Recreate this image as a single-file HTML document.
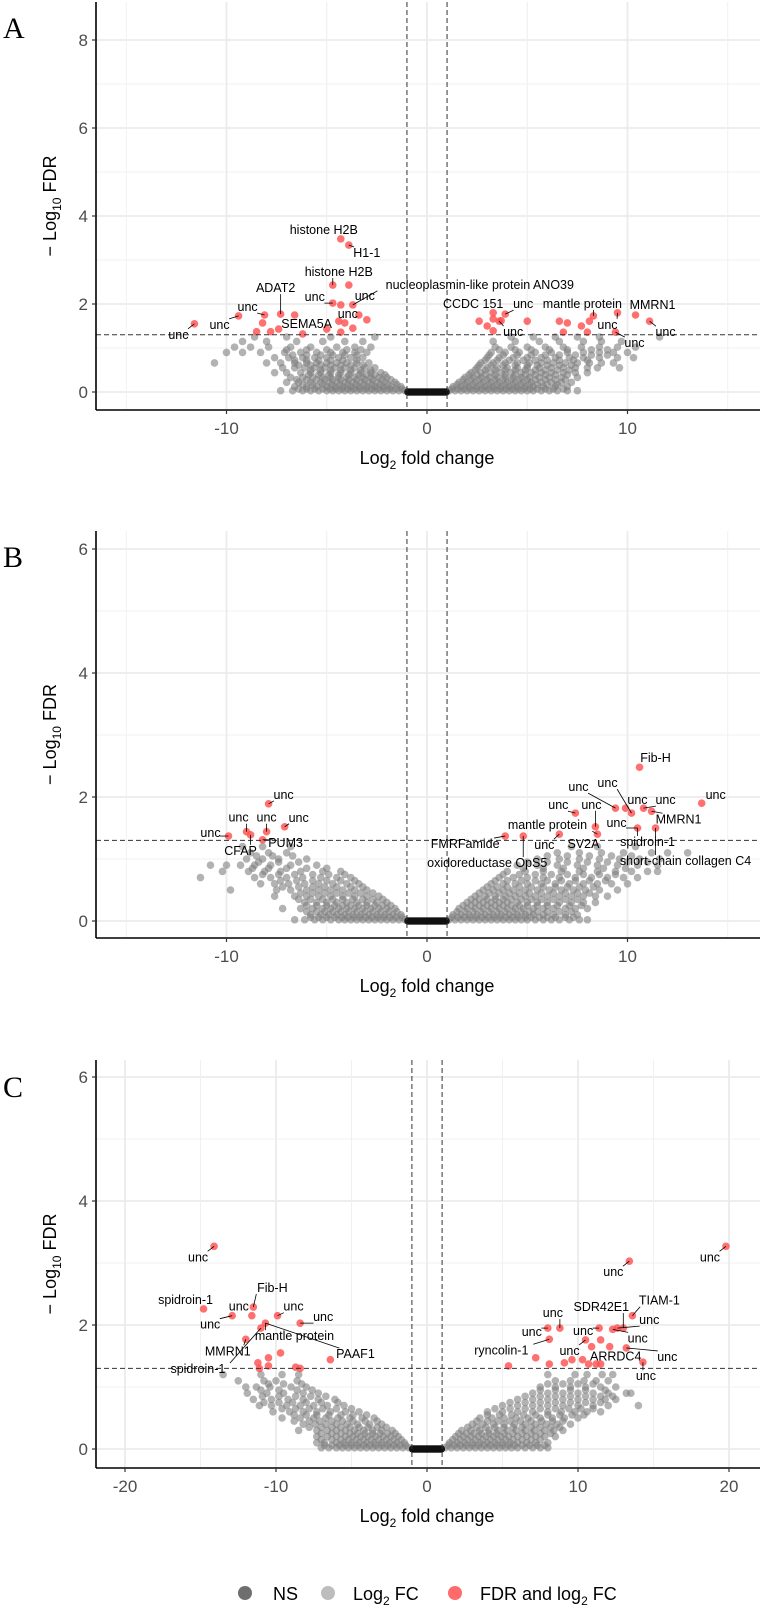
<!DOCTYPE html>
<html><head><meta charset="utf-8">
<style>
html,body{margin:0;padding:0;background:#fff;}
svg{display:block;font-family:"Liberation Sans",Arial,sans-serif;}
</style></head>
<body>
<svg id="fig" width="760" height="1605" viewBox="0 0 760 1605" xmlns="http://www.w3.org/2000/svg"></svg>
<script>
// ---------- Panel A data ----------
const redA = [[-11.6,1.55],[-9.4,1.73],[-8.1,1.75],[-8.2,1.57],[-8.5,1.37],[-7.8,1.37],[-7.3,1.77],[-7.4,1.43],[-6.6,1.75],[-6.2,1.32],[-5.0,1.43],[-4.7,2.43],[-4.3,3.48],[-3.9,3.34],[-3.9,2.43],[-4.7,2.02],[-4.3,1.98],[-3.7,1.98],[-4.4,1.61],[-4.1,1.57],[-4.3,1.36],[-3.7,1.45],[-3.4,1.75],[-3.0,1.64],
[2.6,1.61],[3.3,1.80],[3.3,1.66],[3.0,1.50],[3.3,1.39],[3.6,1.61],[3.7,1.62],[3.9,1.77],[5.0,1.61],[6.6,1.61],[7.0,1.57],[6.8,1.36],[7.7,1.50],[8.1,1.61],[8.3,1.73],[8.0,1.36],[9.5,1.80],[9.4,1.36],[10.4,1.75],[11.1,1.61]];
const grayA = [
[0.03,[-1.1,-1.4,-1.7,-2.0,-2.3,-2.6,-2.9,-3.2,-3.5,-3.8,-4.1,-4.4,-4.7,-5.0,-5.4,-5.8,-6.2,-6.7,-7.3,1.1,1.4,1.7,2.0,2.3,2.6,2.9,3.2,3.5,3.8,4.1,4.4,4.7,5.0,5.3,5.7,6.1,6.5,7.0,7.5]],
[0.12,[-1.3,-1.8,-2.2,-2.6,-3.0,-3.4,-3.8,-4.2,-4.6,-5.0,-5.5,-6.0,-6.6,1.3,1.7,2.1,2.5,2.9,3.3,3.7,4.1,4.5,4.9,5.3,5.8,6.4,7.0]],
[0.22,[-1.6,-2.1,-2.5,-2.9,-3.3,-3.7,-4.1,-4.5,-4.9,-5.3,-5.8,-6.4,-7.0,1.6,2.0,2.4,2.8,3.2,3.6,4.0,4.4,4.8,5.2,5.7,6.2,6.7,7.2]],
[0.33,[-2.0,-2.4,-2.8,-3.2,-3.6,-4.0,-4.4,-4.8,-5.2,-5.7,-6.2,-6.8,1.9,2.3,2.7,3.1,3.5,3.9,4.3,4.7,5.1,5.6,6.1,6.7,7.5]],
[0.44,[-2.3,-2.8,-3.3,-3.8,-4.3,-4.8,-5.3,-5.8,-6.3,-7.0,-7.6,2.2,2.7,3.2,3.7,4.2,4.7,5.2,5.7,6.2,6.8,7.4,8.0]],
[0.55,[-2.6,-3.1,-3.6,-4.1,-4.6,-5.1,-5.6,-6.1,-6.6,-7.2,2.5,3.0,3.5,4.0,4.5,5.0,5.6,6.2,6.8,7.4,8.0,8.5,9.6]],
[0.66,[-2.9,-3.5,-4.0,-4.5,-5.0,-5.5,-6.0,-6.6,-7.3,-8.0,-10.6,2.7,3.3,3.9,4.5,5.1,5.7,6.3,6.9,7.5,8.1,8.7,9.3]],
[0.78,[-3.2,-3.8,-4.4,-5.0,-5.6,-6.2,-6.9,-7.6,3.0,3.6,4.3,5.0,5.7,6.4,7.1,7.8,8.6,9.5,10.3]],
[0.90,[-3.0,-3.6,-4.2,-4.8,-5.5,-6.3,-7.1,-8.3,-9.2,-10.0,3.2,3.9,4.6,5.4,6.2,7.0,7.8,8.6,9.3,10.0]],
[1.02,[-2.8,-3.6,-4.5,-5.8,-6.8,-7.9,-8.8,-9.6,3.4,4.2,5.0,5.9,6.8,7.7,8.6,9.5,10.4]],
[1.15,[-3.2,-4.1,-5.2,-6.5,-8.0,-9.2,3.3,4.4,5.6,6.6,7.8,8.7,9.7]],
[1.25,[-2.6,-4.8,-7.0,-8.6,4.2,5.3,6.4,7.5,8.6,11.6]],
[0.07,[-1.25,-1.55,-1.85,-2.15,-2.45,-2.75,-3.05,-3.35,-3.65,-3.95,-4.25,-4.55,-4.85,-5.2,-5.6,-6.0,-6.4,1.25,1.55,1.85,2.15,2.45,2.75,3.05,3.35,3.65,3.95,4.25,4.55,4.85,5.15,5.5,5.9,6.3,6.8]],
[0.17,[-1.5,-1.95,-2.35,-2.75,-3.15,-3.55,-3.95,-4.35,-4.75,-5.2,-5.7,-6.2,1.5,1.9,2.3,2.7,3.1,3.5,3.9,4.3,4.7,5.1,5.5,6.0,6.5]],
[0.28,[-1.8,-2.25,-2.7,-3.1,-3.5,-3.9,-4.3,-4.7,-5.1,-5.5,-6.0,-6.5,1.8,2.2,2.6,3.0,3.4,3.8,4.2,4.6,5.0,5.4,5.9,6.4,6.9]],
[0.39,[-2.1,-2.6,-3.0,-3.4,-3.9,-4.4,-4.9,-5.4,-5.9,2.1,2.5,2.9,3.4,3.9,4.4,4.9,5.4,5.9,6.4,7.0]],
[0.50,[-2.8,-3.3,-3.8,-4.3,-4.8,-5.3,-5.8,2.4,2.9,3.4,3.9,4.4,4.9,5.4,5.9,6.5,7.1]],
[0.61,[-3.2,-3.8,-4.3,-4.8,-5.3,-5.8,-6.4,2.6,3.2,3.8,4.4,5.0,5.5,6.0,6.6,7.2]],
[0.72,[-3.5,-4.2,-4.8,-5.4,-6.0,-6.6,2.9,3.5,4.1,4.8,5.4,6.0,6.6,7.3,8.0]],
[0.84,[-3.5,-4.1,-4.7,-5.3,-6.0,-6.7,3.1,3.8,4.5,5.2,5.9,6.6,7.4,8.2,9.0]],
[0.96,[-3.3,-4.0,-5.0,-6.0,-7.0,3.6,4.4,5.2,6.1,7.0,8.2,9.0]]];
const labelsA = [
["histone H2B",-4.3,3.48,-17,-9],["H1-1",-3.9,3.34,18,8],["histone H2B",-4.7,2.43,6,-13],["ADAT2",-7.3,1.77,-5,-26],
["unc",-4.7,2.02,-18,-6],["unc",-3.7,1.98,12,-9],["nucleoplasmin-like protein ANO39",-3.7,1.98,127,-20],
["unc",-8.1,1.75,-17,-8],["unc",-9.4,1.73,-19,9],["unc",-11.6,1.55,-16,11],["SEMA5A",-6.6,1.75,12,9],["unc",-4.4,1.61,9,-7],
["CCDC 151",3.3,1.80,-20,-9],["unc",3.9,1.77,18,-10],["unc",3.6,1.61,14,11],["mantle protein",8.3,1.73,-11,-12],
["unc",9.5,1.80,-10,12],["MMRN1",10.4,1.75,17,-10],["unc",9.4,1.36,19,11],["unc",11.1,1.61,16,11]];

// ---------- Panel B data ----------
const redB = [[-7.9,1.89],[-9.9,1.37],[-9.0,1.44],[-8.8,1.39],[-8.0,1.44],[-7.1,1.52],[-8.2,1.31],
[3.9,1.37],[4.8,1.37],[6.6,1.40],[7.4,1.74],[8.4,1.52],[8.5,1.40],[9.4,1.82],[9.9,1.82],[10.2,1.74],[10.8,1.82],[11.2,1.77],[10.5,1.50],[11.4,1.50],[13.7,1.90],[10.6,2.48]];
const grayB = [
[0.02,[-1.1,-1.4,-1.7,-2.0,-2.3,-2.6,-2.9,-3.2,-3.5,-3.8,-4.1,-4.4,-4.8,-5.2,-5.6,-6.1,-6.6,1.1,1.4,1.7,2.0,2.3,2.6,2.9,3.2,3.5,3.8,4.1,4.4,4.7,5.0,5.4,5.8,6.2,6.6,7.1,7.6,8.0]],
[0.10,[-1.3,-1.7,-2.1,-2.5,-2.9,-3.3,-3.7,-4.1,-4.5,-4.9,-5.3,-5.8,1.3,1.7,2.1,2.5,2.9,3.3,3.7,4.1,4.5,4.9,5.3,5.8,6.3,6.9,7.5]],
[0.20,[-1.6,-2.0,-2.4,-2.8,-3.2,-3.6,-4.0,-4.4,-4.8,-5.2,-5.7,-6.3,-7.2,1.6,2.0,2.4,2.8,3.2,3.6,4.0,4.4,4.8,5.3,5.8,6.3,6.9,7.4,8.0]],
[0.30,[-2.0,-2.5,-3.0,-3.5,-4.0,-4.5,-5.0,-5.5,-6.1,2.0,2.4,2.8,3.2,3.6,4.0,4.5,5.0,5.5,6.0,6.6,7.2,7.8,8.4]],
[0.40,[-2.4,-3.0,-3.6,-4.2,-4.8,-5.4,-6.0,-6.6,-7.6,2.4,2.9,3.4,3.9,4.4,4.9,5.4,6.0,6.6,7.2,7.8,8.4,9.0]],
[0.50,[-3.0,-3.6,-4.2,-4.8,-5.4,-6.0,-6.8,-7.5,-9.8,2.8,3.3,3.8,4.3,4.9,5.5,6.1,6.7,7.3,7.9,8.6,9.5]],
[0.60,[-3.4,-4.0,-4.7,-5.4,-6.1,-6.9,-7.6,-8.3,3.2,3.8,4.4,5.0,5.7,6.4,7.1,7.8,8.5,9.2,10.0]],
[0.70,[-3.8,-4.5,-5.3,-6.2,-7.0,-7.8,-8.6,-11.3,3.6,4.3,5.0,5.8,6.6,7.4,8.2,9.0,9.8,10.5]],
[0.80,[-4.3,-5.2,-6.3,-7.3,-8.1,-8.9,-10.2,4.0,4.9,5.8,6.7,7.6,8.5,9.4,10.2,11.0,11.5]],
[0.90,[-5.5,-6.8,-7.8,-8.6,-9.3,-10.0,-10.8,4.5,5.5,6.5,7.5,8.5,9.5,10.5,11.5]],
[1.00,[-6.0,-7.4,-8.2,-9.0,5.5,6.6,7.6,8.6,9.6,10.6,11.6]],
[1.10,[-7.0,-7.9,-8.8,6.5,7.6,8.7,9.8,11.2,12.0,13.0]],
[1.20,[-6.8,-8.2,-9.2,7.2,8.5,10.4]],
[0.06,[-1.25,-1.55,-1.85,-2.15,-2.45,-2.75,-3.05,-3.35,-3.65,-3.95,-4.25,-4.6,-5.0,-5.4,-5.8,1.25,1.55,1.85,2.15,2.45,2.75,3.05,3.35,3.65,3.95,4.25,4.55,4.9,5.2,5.6,6.0,6.4,6.9,7.3]],
[0.15,[-1.5,-1.9,-2.3,-2.7,-3.1,-3.5,-3.9,-4.3,-4.7,-5.1,-5.5,-6.0,1.5,1.9,2.3,2.7,3.1,3.5,3.9,4.3,4.7,5.1,5.5,6.0,6.6,7.2]],
[0.25,[-1.8,-2.2,-2.6,-3.0,-3.4,-3.8,-4.2,-4.6,-5.0,-5.5,-6.0,1.8,2.2,2.6,3.0,3.4,3.8,4.2,4.6,5.0,5.5,6.0,6.5,7.1,7.7]],
[0.35,[-2.2,-2.7,-3.2,-3.7,-4.2,-4.7,-5.2,-5.8,-6.4,2.2,2.6,3.0,3.4,3.8,4.2,4.7,5.2,5.7,6.3,6.9,7.5]],
[0.45,[-2.7,-3.3,-3.9,-4.5,-5.1,-5.7,-6.3,2.6,3.1,3.6,4.1,4.6,5.1,5.7,6.3,6.9,7.5,8.1]],
[0.55,[-3.2,-3.8,-4.5,-5.1,-5.7,-6.4,-7.2,3.0,3.5,4.0,4.6,5.2,5.8,6.4,7.0,7.6,8.3]],
[0.65,[-3.6,-4.3,-5.0,-5.7,-6.5,-7.3,3.4,4.0,4.7,5.4,6.0,6.7,7.4,8.1,8.9]],
[0.75,[-4.1,-4.9,-5.7,-6.6,-7.4,-8.2,3.8,4.6,5.4,6.2,7.0,7.8,8.6,9.4]],
[0.85,[-5.0,-6.0,-7.0,-7.9,-8.7,4.8,5.8,6.8,7.8,8.8,9.9]],
[0.95,[-6.4,-7.4,-8.4,5.0,6.0,7.0,8.0,9.0,10.0,11.0]],
[1.05,[-6.7,-7.7,-8.5,6.0,7.0,8.1,9.2,10.2]]];
const labelsB = [
["Fib-H",10.6,2.48,16,-9],["unc",9.4,1.82,-37,-21],["unc",10.2,1.74,-24,-30],["unc",-7.9,1.89,15,-9],
["unc",9.9,1.82,12,-8],["unc",10.8,1.82,22,-8],["unc",13.7,1.90,14,-8],["unc",7.4,1.74,-17,-8],["unc",8.4,1.52,-4,-22],
["MMRN1",11.2,1.77,27,8],["mantle protein",8.5,1.40,-50,-9],["unc",10.5,1.50,-21,-5],["FMRFamide",3.9,1.37,-40,8],
["unc",6.6,1.40,-15,11],["SV2A",8.5,1.40,-14,10],["spidroin-1",10.5,1.50,10,14],["oxidoreductase OpS5",4.8,1.37,-36,27],
["short-chain collagen C4",11.4,1.50,30,33],["unc",-9.0,1.44,-8,-14],["unc",-8.0,1.44,0,-14],["unc",-7.1,1.52,14,-9],
["unc",-9.9,1.37,-18,-3],["PUM3",-8.2,1.31,23,3],["CFAP",-8.8,1.39,-10,16]];

// ---------- Panel C data ----------
const redC = [[-14.1,3.27],[-14.8,2.26],[-12.9,2.15],[-11.5,2.29],[-11.6,2.15],[-9.9,2.15],[-8.4,2.03],[-10.7,2.03],[-11.0,1.95],[-12.0,1.77],[-9.7,1.55],[-10.5,1.47],[-11.2,1.39],[-10.5,1.34],[-11.1,1.30],[-8.7,1.32],[-8.4,1.30],[-6.4,1.44],
[13.4,3.03],[19.8,3.27],[13.6,2.15],[8.0,1.95],[8.8,1.95],[8.1,1.77],[11.4,1.95],[12.3,1.93],[12.6,1.95],[13.0,1.95],[10.5,1.76],[11.5,1.76],[12.1,1.65],[10.9,1.65],[13.2,1.63],[7.2,1.47],[9.6,1.44],[10.3,1.44],[9.1,1.39],[8.1,1.37],[10.7,1.37],[11.2,1.37],[11.5,1.37],[14.3,1.40],[5.4,1.34]];
const grayC = [
[0.02,[-1.2,-1.6,-2.0,-2.4,-2.8,-3.2,-3.6,-4.0,-4.4,-4.8,-5.2,-5.6,-6.0,-6.5,-7.0,1.2,1.6,2.0,2.4,2.8,3.2,3.6,4.0,4.4,4.8,5.2,5.6,6.0,6.5,7.0,7.5,8.0]],
[0.10,[-1.5,-2.0,-2.5,-3.0,-3.5,-4.0,-4.5,-5.0,-5.5,-6.0,-6.8,-7.3,1.5,2.0,2.5,3.0,3.5,4.0,4.5,5.0,5.5,6.0,6.6,7.2,8.0]],
[0.20,[-1.9,-2.4,-2.9,-3.4,-3.9,-4.4,-4.9,-5.4,-6.0,-6.6,-7.3,1.9,2.4,2.9,3.4,3.9,4.4,4.9,5.4,6.0,6.6,7.2,7.8,8.5]],
[0.30,[-2.3,-3.0,-3.6,-4.2,-4.8,-5.4,-6.0,-6.6,-7.3,-8.5,2.3,2.9,3.5,4.1,4.7,5.3,5.9,6.5,7.1,7.8,8.4,9.0]],
[0.40,[-3.0,-3.8,-4.6,-5.3,-6.0,-6.7,-7.4,-8.2,3.0,3.7,4.4,5.1,5.8,6.5,7.2,7.9,8.6,9.5]],
[0.50,[-3.5,-4.3,-5.1,-5.9,-6.7,-7.5,-8.4,-9.6,3.5,4.3,5.1,5.9,6.7,7.5,8.3,9.1,10.0]],
[0.60,[-4.5,-5.4,-6.4,-7.3,-8.2,-9.1,-10.2,4.0,5.0,6.0,7.0,8.0,8.9,9.8,10.6,11.5]],
[0.70,[-5.5,-6.6,-7.5,-8.4,-9.3,-10.3,-11.1,5.0,6.0,7.0,8.0,9.0,10.0,11.0,12.0,14.0]],
[0.80,[-6.1,-7.2,-8.2,-9.2,-10.3,-11.5,6.0,7.0,8.0,9.0,10.0,11.0,11.8,12.5]],
[0.90,[-7.2,-8.2,-9.5,-10.6,-11.9,7.0,8.0,9.0,10.0,11.0,12.0,13.2,13.5]],
[1.00,[-8.0,-9.0,-10.4,-11.3,-12.0,7.5,8.5,9.5,10.5,11.5,12.5]],
[1.10,[-8.6,-10.0,-10.8,-12.5,8.5,9.5,10.4,11.2,12.0]],
[1.20,[-8.5,-9.6,-11.0,-13.5,8.0,9.8,10.6,11.6,12.3]],
[0.06,[-1.4,-1.8,-2.2,-2.6,-3.0,-3.4,-3.8,-4.2,-4.6,-5.0,-5.4,-5.8,-6.3,-6.8,1.4,1.8,2.2,2.6,3.0,3.4,3.8,4.2,4.6,5.0,5.4,5.8,6.3,6.8,7.3,7.8]],
[0.15,[-1.7,-2.2,-2.7,-3.2,-3.7,-4.2,-4.7,-5.2,-5.7,-6.3,-7.0,1.7,2.2,2.7,3.2,3.7,4.2,4.7,5.2,5.7,6.3,6.9,7.5]],
[0.25,[-2.1,-2.6,-3.1,-3.6,-4.1,-4.6,-5.1,-5.7,-6.3,-7.0,2.1,2.6,3.1,3.6,4.1,4.6,5.1,5.7,6.3,6.9,7.5,8.2]],
[0.35,[-2.7,-3.3,-3.9,-4.5,-5.1,-5.7,-6.3,-7.0,-7.8,2.7,3.3,3.9,4.5,5.1,5.7,6.3,6.9,7.5,8.2,8.8]],
[0.45,[-3.3,-4.1,-4.9,-5.6,-6.3,-7.1,-7.8,-8.8,3.3,4.0,4.7,5.5,6.2,6.9,7.6,8.3,9.0]],
[0.55,[-4.0,-4.9,-5.7,-6.5,-7.3,-8.0,-8.8,4.0,4.8,5.6,6.4,7.2,8.0,8.8,9.6,10.4]],
[0.65,[-5.0,-6.0,-6.9,-7.8,-8.7,-9.6,4.5,5.5,6.5,7.5,8.5,9.4,10.2,11.0]],
[0.75,[-5.9,-7.0,-8.0,-8.9,-9.8,-10.8,5.5,6.5,7.5,8.5,9.5,10.5,11.5]],
[0.85,[-6.7,-7.7,-8.7,-9.8,-10.9,6.5,7.5,8.5,9.5,10.5,11.5,12.3]],
[0.95,[-7.6,-8.6,-9.8,-11.0,7.5,8.5,9.5,10.5,11.8]],
[1.05,[-8.3,-9.5,-10.5,8.0,9.0,10.0,11.0]]];
const labelsC = [
["unc",-14.1,3.27,-16,11],["spidroin-1",-14.8,2.26,-18,-9],["Fib-H",-11.5,2.29,19,-19],["unc",-11.6,2.15,-13,-9],
["unc",-9.9,2.15,16,-9],["unc",-8.4,2.03,23,-6],["unc",-12.9,2.15,-22,9],["mantle protein",-10.7,2.03,29,13],
["MMRN1",-12.0,1.77,-18,12],["PAAF1",-10.7,2.03,90,31],["spidroin-1",-11.0,1.95,-63,41],
["unc",13.4,3.03,-16,11],["unc",19.8,3.27,-16,11],["SDR42E1",13.0,1.95,-22,-21],["TIAM-1",13.6,2.15,27,-15],
["unc",8.8,1.95,-7,-15],["unc",12.6,1.95,32,-8],["unc",8.0,1.95,-16,4],["unc",11.4,1.95,-16,3],["unc",12.3,1.93,25,9],
["ryncolin-1",8.1,1.77,-48,11],["unc",10.5,1.76,-16,11],["ARRDC4",12.1,1.65,6,10],["unc",13.2,1.63,41,9],["unc",14.3,1.40,3,14]];

// NS points (|log2FC| < 1) form the dark bar at y=0
const nsX = [-0.95,-0.85,-0.75,-0.65,-0.55,-0.45,-0.35,-0.25,-0.15,-0.05,0.05,0.15,0.25,0.35,0.45,0.55,0.65,0.75,0.85,0.95];

const xTicksAB = [-10,0,10];
const xTicksC = [-20,-10,0,10,20];
const yTicksA = [0,2,4,6,8];
const yTicksBC = [0,2,4,6];

const NS = "http://www.w3.org/2000/svg";
const svg = document.getElementById('fig');
function mk(tag, attrs, parent){
  const e = document.createElementNS(NS, tag);
  for (const k in attrs) e.setAttribute(k, attrs[k]);
  (parent||svg).appendChild(e);
  return e;
}

function panel(cfg){
  const g = mk('g', {});
  
  
  const L=96, R=760, T=cfg.top, B=cfg.bottom;
  const sx = v => cfg.x0px + cfg.xs*v;
  const sy = v => cfg.y0px - cfg.ys*v;
  const grid = mk('g', {}, g);
  
  
  for (let i=0;i<cfg.yt.length;i++){
    const v = cfg.yt[i];
    mk('line',{x1:L,x2:R,y1:sy(v),y2:sy(v),stroke:'#ebebeb','stroke-width':1.8},grid);
    if (sy(v+1) > T) mk('line',{x1:L,x2:R,y1:sy(v+1),y2:sy(v+1),stroke:'#f0f0f0','stroke-width':0.9},grid);
  }
  const step = cfg.xt[1]-cfg.xt[0];
  for (let i=0;i<cfg.xt.length;i++){
    const v = cfg.xt[i];
    mk('line',{x1:sx(v),x2:sx(v),y1:T,y2:B,stroke:'#ebebeb','stroke-width':1.8},grid);
    [v-step/2, v+step/2].forEach(m=>{
      if (sx(m)>L && sx(m)<R) mk('line',{x1:sx(m),x2:sx(m),y1:T,y2:B,stroke:'#f0f0f0','stroke-width':0.9},grid);
    });
  }
  const pts = mk('g', {}, g);
  
  
  cfg.gray.forEach(row=>{
    row[1].forEach(x=>{
      const c = mk('circle',{cx:sx(x),cy:sy(row[0]),r:3.8,fill:'#7f7f7f','fill-opacity':0.6},pts);
      
      
    });
  });
  const nsg = mk('g', {}, g);
  
  
  nsX.forEach(x=>{
    const c = mk('circle',{cx:sx(x),cy:sy(0),r:3.8,fill:'#111','fill-opacity':0.95},nsg);
    
    
  });
  const rg = mk('g', {}, g);
  
  
  cfg.red.forEach(p=>{
    const c = mk('circle',{cx:sx(p[0]),cy:sy(p[1]),r:3.8,fill:'#ff4d4d','fill-opacity':0.8},rg);
    
    
  });
  const th = mk('g', {stroke:'#333','stroke-width':1,'stroke-dasharray':'5,3'}, g);
  
  
  [-1,1].forEach(v=>mk('line',{x1:sx(v),x2:sx(v),y1:T,y2:B},th));
  mk('line',{x1:L,x2:R,y1:sy(1.3),y2:sy(1.3)},th);
  const lg = mk('g', {}, g);
  
  
  cfg.labels.forEach(l=>{
    const px = sx(l[1]), py = sy(l[2]);
    const cx = px + l[3], cy = py + l[4];
    const w = l[0].length*6.4, h = 12;
    const ex = Math.max(cx-w/2, Math.min(px, cx+w/2));
    const ey = Math.max(cy-h/2, Math.min(py, cy+h/2));
    if (Math.hypot(ex-px, ey-py) > 5){
      mk('line',{x1:px,y1:py,x2:ex,y2:ey,stroke:'#000','stroke-width':0.8},lg);
    }
    const t = mk('text',{x:cx,y:cy+4,'text-anchor':'middle','font-size':12.5,fill:'#000'},lg);
    t.textContent = l[0];
    
    
  });
  const ax = mk('g', {}, g);
  
  
  mk('line',{x1:L,x2:L,y1:T,y2:B,stroke:'#000','stroke-width':1.6},ax);
  mk('line',{x1:L,x2:R,y1:B,y2:B,stroke:'#000','stroke-width':1.6},ax);
  cfg.yt.forEach(v=>{
    mk('line',{x1:L-4,x2:L,y1:sy(v),y2:sy(v),stroke:'#333','stroke-width':1.2},ax);
    const t = mk('text',{x:L-8,y:sy(v)+6,'text-anchor':'end','font-size':17,fill:'#4d4d4d'},ax);
    t.textContent = v;
    
    
  });
  cfg.xt.forEach(v=>{
    mk('line',{x1:sx(v),x2:sx(v),y1:B,y2:B+4,stroke:'#333','stroke-width':1.2},ax);
    const t = mk('text',{x:sx(v),y:B+24,'text-anchor':'middle','font-size':17,fill:'#4d4d4d'},ax);
    t.textContent = v;
    
    
  });
  const xt = mk('text',{x:427,y:B+54,'text-anchor':'middle','font-size':18,fill:'#000'},ax);
  xt.innerHTML = 'Log<tspan font-size="12" dy="5">2</tspan><tspan dy="-5"> fold change</tspan>';
  
  
  const yc = (T+B)/2;
  const yt = mk('text',{x:0,y:0,'text-anchor':'middle','font-size':18,fill:'#000',transform:`translate(56,${yc}) rotate(-90)`},ax);
  yt.innerHTML = '− Log<tspan font-size="12" dy="5">10</tspan><tspan dy="-5"> FDR</tspan>';
  
  
  const pl = mk('text',{x:3,y:cfg.letterY,'font-size':30,'font-family':'"Liberation Serif",serif',fill:'#000'},g);
  pl.textContent = cfg.id;
  
  
}

panel({id:'A',top:2,bottom:410,x0px:427,xs:20.05,y0px:392,ys:44,xt:xTicksAB,yt:yTicksA,gray:grayA,red:redA,labels:labelsA,letterY:38});
panel({id:'B',top:531,bottom:938,x0px:427,xs:20.05,y0px:921,ys:62,xt:xTicksAB,yt:yTicksBC,gray:grayB,red:redB,labels:labelsB,letterY:567});
panel({id:'C',top:1060,bottom:1468,x0px:427,xs:15.1,y0px:1449,ys:62,xt:xTicksC,yt:yTicksBC,gray:grayC,red:redC,labels:labelsC,letterY:1097});

const leg = mk('g', {});


const legendItems = [['NS','#6e6e6e',245,273],['Log2 FC','#bdbdbd',328,353],['FDR and log2 FC','#ff6b6b',455,480]];
legendItems.forEach(it=>{
  const c = mk('circle',{cx:it[2],cy:1593,r:7,fill:it[1]},leg);
  
  
  const t = mk('text',{x:it[3],y:1600,'font-size':18,fill:'#000'},leg);
  if (it[0]==='Log2 FC') t.innerHTML = 'Log<tspan font-size="12" dy="5">2</tspan><tspan dy="-5"> FC</tspan>';
  else if (it[0]==='FDR and log2 FC') t.innerHTML = 'FDR and log<tspan font-size="12" dy="5">2</tspan><tspan dy="-5"> FC</tspan>';
  else t.textContent = it[0];
  
  
});
</script>
</body></html>
